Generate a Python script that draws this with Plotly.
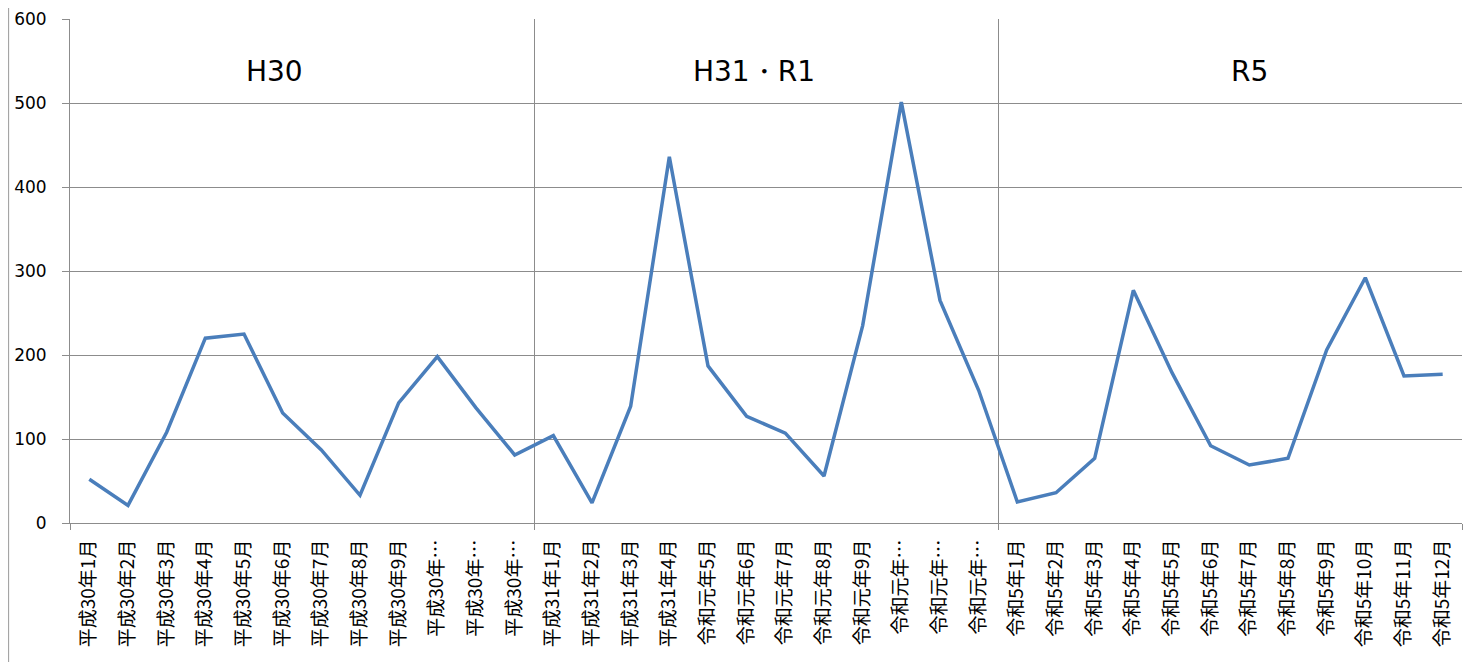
import plotly.graph_objects as go

months = ["平成30年1月", "平成30年2月", "平成30年3月", "平成30年4月", "平成30年5月", "平成30年6月",
          "平成30年7月", "平成30年8月", "平成30年9月", "平成30年…", "平成30年…", "平成30年…",
          "平成31年1月", "平成31年2月", "平成31年3月", "平成31年4月", "令和元年5月", "令和元年6月",
          "令和元年7月", "令和元年8月", "令和元年9月", "令和元年…", "令和元年…", "令和元年…",
          "令和5年1月", "令和5年2月", "令和5年3月", "令和5年4月", "令和5年5月", "令和5年6月",
          "令和5年7月", "令和5年8月", "令和5年9月", "令和5年10月", "令和5年11月", "令和5年12月"]
counts = [52, 21, 108, 220, 225, 131, 87, 33, 143, 198, 137, 81,
          104, 24, 139, 436, 187, 127, 107, 56, 235, 501, 265, 158,
          25, 36, 77, 277, 179, 92, 69, 77, 206, 292, 175, 177]
periods = ["H30", "H31・R1", "R5"]
period_pos = [4.8, 17.2, 30.0]

idx = list(range(len(months)))
grid = "#8c8c8c"

fig = go.Figure()
fig.add_trace(go.Scatter(x=idx, y=counts, mode="lines",
                         line=dict(color="#4a7ebb", width=3.5), showlegend=False))

for p, x in zip(periods, period_pos):
    fig.add_annotation(x=x, y=538, text=p, showarrow=False,
                       font=dict(size=28, color="black", family="DejaVu Sans"))

# frame edge on the left (as close to the page edge as the figure allows)
fig.add_shape(type="line", xref="paper", yref="paper", x0=-0.0441, x1=-0.0441,
              y0=-0.3, y1=1.04, line=dict(color="#9a9a9a", width=1))

# page body has an 8px margin, so the figure is a bit smaller than the window
fig.update_layout(
    width=1473, height=654,
    margin=dict(l=62, r=19, t=11, b=139),
    plot_bgcolor="white", paper_bgcolor="white",
    font=dict(family="Noto Sans CJK JP", color="black"),
)
fig.update_xaxes(
    range=[-0.5, 35.5], tickvals=idx, ticktext=months, tickangle=-90,
    ticks="", showgrid=False, zeroline=False, automargin=False,
    showline=True, linecolor=grid, linewidth=1,
    tickfont=dict(size=19, family="Noto Sans CJK JP"),
    ticklabelstandoff=8,
    minor=dict(tick0=-0.5, dtick=12, ticks="outside", ticklen=6, tickcolor=grid,
               showgrid=True, gridcolor=grid, gridwidth=1),
)
fig.update_yaxes(
    range=[0, 600], dtick=100, ticks="outside", ticklen=7, tickcolor=grid,
    showgrid=True, gridcolor=grid, gridwidth=1, zeroline=False, automargin=False,
    showline=True, linecolor=grid, linewidth=1,
    tickfont=dict(size=17, family="DejaVu Sans"),
    ticklabelstandoff=12,
)

fig.write_html("out.html")
